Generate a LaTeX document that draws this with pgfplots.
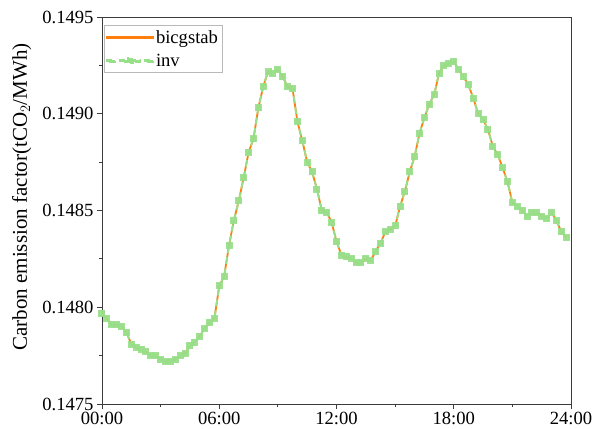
\documentclass[border=0pt]{standalone}
\usepackage{fontspec}
\setmainfont{Liberation Serif}
\usepackage{pgfplots}
\pgfplotsset{compat=1.18}
\usepackage{pgfplotstable}
\definecolor{cfOrange}{RGB}{255,127,14}
\definecolor{cfGreen}{RGB}{152,223,138}
\definecolor{cfAxis}{RGB}{60,60,60}

% emission factor, 15-min steps (hour, tCO2/MWh)
\pgfplotstableread{
t v
0.00 0.14797
0.25 0.14794
0.50 0.14791
0.75 0.14791
1.00 0.14790
1.25 0.14787
1.50 0.14781
1.75 0.14779
2.00 0.14778
2.25 0.14777
2.50 0.14775
2.75 0.14775
3.00 0.14773
3.25 0.14772
3.50 0.14772
3.75 0.14773
4.00 0.14775
4.25 0.14776
4.50 0.14780
4.75 0.14782
5.00 0.14785
5.25 0.14789
5.50 0.14792
5.75 0.14794
6.00 0.14811
6.25 0.14816
6.50 0.14832
6.75 0.14845
7.00 0.14855
7.25 0.14867
7.50 0.14880
7.75 0.14887
8.00 0.14903
8.25 0.14914
8.50 0.14922
8.75 0.14921
9.00 0.14923
9.25 0.14919
9.50 0.14914
9.75 0.14913
10.00 0.14896
10.25 0.14886
10.50 0.14875
10.75 0.14870
11.00 0.14861
11.25 0.14850
11.50 0.14849
11.75 0.14844
12.00 0.14834
12.25 0.14827
12.50 0.14826
12.75 0.14825
13.00 0.14823
13.25 0.14823
13.50 0.14825
13.75 0.14824
14.00 0.14829
14.25 0.14833
14.50 0.14839
14.75 0.14840
15.00 0.14842
15.25 0.14852
15.50 0.14860
15.75 0.14870
16.00 0.14878
16.25 0.14890
16.50 0.14898
16.75 0.14905
17.00 0.14910
17.25 0.14921
17.50 0.14925
17.75 0.14926
18.00 0.14927
18.25 0.14923
18.50 0.14919
18.75 0.14915
19.00 0.14908
19.25 0.14900
19.50 0.14897
19.75 0.14892
20.00 0.14883
20.25 0.14879
20.50 0.14872
20.75 0.14865
21.00 0.14854
21.25 0.14852
21.50 0.14850
21.75 0.14847
22.00 0.14849
22.25 0.14849
22.50 0.14847
22.75 0.14846
23.00 0.14849
23.25 0.14845
23.50 0.14839
23.75 0.14836
}\emission

\begin{document}
\begin{tikzpicture}
\begin{axis}[
  scale only axis,
  width=469pt, height=387pt,
  xmin=0, xmax=24,
  ymin=0.1475, ymax=0.1495,
  xtick={0,6,12,18,24},
  xticklabels={00:00,06:00,12:00,18:00,24:00},
  ytick={0.1475,0.1480,0.1485,0.1490,0.1495},
  minor x tick num=1,
  minor y tick num=1,
  scaled y ticks=false,
  yticklabel style={/pgf/number format/.cd,fixed,fixed zerofill,precision=4,assume math mode=true},
  xticklabel style={/pgf/number format/assume math mode=true},
  tick label style={font=\fontsize{18.6}{20}\selectfont, text=black},
  tick align=outside,
  xtick pos=bottom, ytick pos=left,
  major tick length=5pt, minor tick length=3pt,
  axis line style={cfAxis, line width=0.9pt},
  every tick/.style={cfAxis, line width=0.8pt},
  ylabel={Carbon emission factor(tCO$_2$/MWh)},
  every axis y label/.style={at={(axis description cs:-0.171,0.535)}, rotate=90, anchor=center,
    font=\fontsize{21}{24}\selectfont},
  legend style={at={(axis description cs:0.0043,0.979)}, anchor=north west,
    draw=gray!55, font=\fontsize{18.6}{20}\selectfont,
    inner xsep=2pt, inner ysep=3pt, row sep=5pt},
  legend cell align=left,
]
\addplot[cfOrange, line width=1.8pt, no markers,
  legend image code/.code={\fill[cfOrange] (0pt,-1pt) rectangle (46pt,1pt);}]
  table[x=t, y=v] {\emission};
\addlegendentry{bicgstab}
\addplot[cfGreen, line width=1.8pt, dash pattern=on 7pt off 4pt,
  mark=square*, mark size=2.6pt, mark options={solid, fill=cfGreen, draw=cfGreen, opacity=0.9},
  legend image code/.code={
    \fill[cfGreen] (0pt,-1pt) rectangle (8pt,1pt);
    \fill[cfGreen] (13pt,-1pt) rectangle (33pt,1pt);
    \fill[cfGreen] (38pt,-1pt) rectangle (46pt,1pt);
    \fill[cfGreen] (20.4pt,-2.6pt) rectangle (25.6pt,2.6pt);}]
  table[x=t, y=v] {\emission};
\addlegendentry{inv}
\end{axis}
\pgfresetboundingbox
\path (-102pt,-24pt) rectangle (491pt,404pt);
\end{tikzpicture}
\end{document}
